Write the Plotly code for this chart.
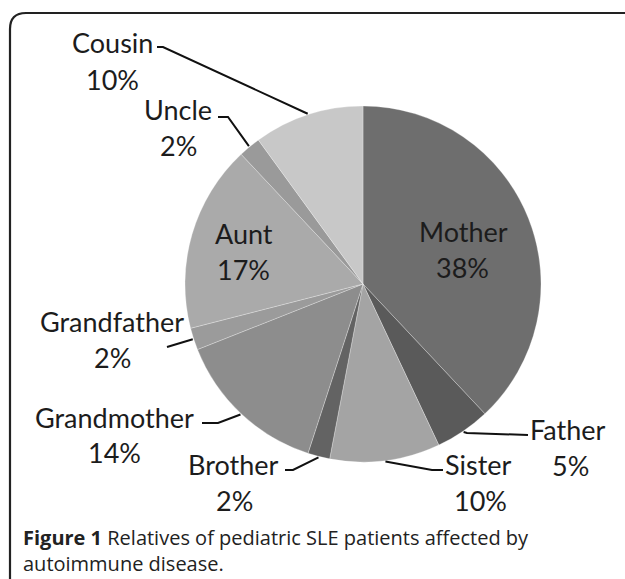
import math
import plotly.graph_objects as go

# ---- data ----
relatives = ["Mother", "Father", "Sister", "Brother", "Grandmother",
             "Grandfather", "Aunt", "Uncle", "Cousin"]
percent = [38, 5, 10, 2, 14, 2, 17, 2, 10]
slice_colors = ["#6e6e6e", "#5a5a5a", "#a4a4a4", "#636363", "#8d8d8d",
                "#9b9b9b", "#aaaaaa", "#9a9a9a", "#c8c8c8"]
caption_bold = "Figure 1"
caption_rest = " Relatives of pediatric SLE patients affected by"
caption_line2 = "autoimmune disease."

W, H = 625, 579
CX, CY, R = 363, 284, 178

def px(x):
    return x / W

def py(y):
    return 1 - y / H

# label layout (pixel positions): name center, pct center, leader elbow points
label_layout = {
    "Mother":      dict(name=(463, 232), pct=(462, 268), leader=None),
    "Aunt":        dict(name=(244, 233), pct=(243, 269), leader=None),
    "Father":      dict(name=(568, 429), pct=(570, 465), leader=[(467, 433), (528, 435)]),
    "Sister":      dict(name=(478, 464), pct=(480, 500), leader=[(432, 470), (443, 470)]),
    "Brother":     dict(name=(233, 464), pct=(234, 500), leader=[(293, 470), (285, 470)]),
    "Grandmother": dict(name=(114, 417), pct=(114, 452), leader=[(218, 423), (202, 423)]),
    "Grandfather": dict(name=(112, 321), pct=(113, 357), leader=[(167, 347)]),
    "Uncle":       dict(name=(178, 110), pct=(178, 146), leader=[(228, 117), (218, 117)]),
    "Cousin":      dict(name=(113, 42),  pct=(113, 80),  leader=[(163, 47), (157, 47)]),
}

fig = go.Figure()
fig.add_trace(go.Pie(
    labels=relatives, values=percent, sort=False, direction="clockwise",
    rotation=0, textinfo="none", hoverinfo="label+percent",
    marker=dict(colors=slice_colors, line=dict(color="rgba(255,255,255,0.35)", width=0.8)),
    domain=dict(x=[px(CX - R), px(CX + R)], y=[py(CY + R), py(CY - R)]),
    showlegend=False,
))

FONT = "Lato"
FS = 27
annotations = []
shapes = []
total = sum(percent)
cum = 0
for name, val in zip(relatives, percent):
    mid = (cum + val / 2) / total * 2 * math.pi
    cum += val
    lay = label_layout[name]
    for key, txt in (("name", name), ("pct", f"{val}%")):
        x, y = lay[key]
        annotations.append(dict(x=px(x), y=py(y), xref="paper", yref="paper",
                                text=txt, showarrow=False, xanchor="center", yanchor="middle",
                                font=dict(family=FONT, size=FS, color="#1c1c1c")))
    if lay["leader"]:
        ax = CX + (R + 1) * math.sin(mid)
        ay = CY - (R + 1) * math.cos(mid)
        pts = [(ax, ay)] + lay["leader"]
        path = "M " + " L ".join(f"{px(x):.5f},{py(y):.5f}" for x, y in pts)
        shapes.append(dict(type="path", xref="paper", yref="paper", path=path,
                           line=dict(color="#111111", width=2)))

# frame (open at bottom/right)
r0 = 16
frame = (f"M {px(10):.5f},{py(579):.5f} L {px(10):.5f},{py(13 + r0):.5f} "
         f"Q {px(10):.5f},{py(13):.5f} {px(10 + r0):.5f},{py(13):.5f} L {px(625):.5f},{py(13):.5f}")
shapes.append(dict(type="path", xref="paper", yref="paper", path=frame,
                   line=dict(color="#222222", width=2.2)))

CAPF = "Open Sans"
CAPS = 20
annotations.append(dict(x=px(21), y=py(550), xref="paper", yref="paper", xanchor="left",
                        yanchor="middle", align="left", showarrow=False,
                        text=f"<b>{caption_bold}</b>{caption_rest}<br>{caption_line2}",
                        font=dict(family=CAPF, size=CAPS, color="#222222")))

fig.update_layout(width=W, height=H, margin=dict(l=0, r=0, t=0, b=0),
                  paper_bgcolor="white", plot_bgcolor="white",
                  annotations=annotations, shapes=shapes)
fig.write_html("out.html", config={"displayModeBar": False},
               post_script="document.body.style.margin='0';document.body.style.overflow='hidden';")
